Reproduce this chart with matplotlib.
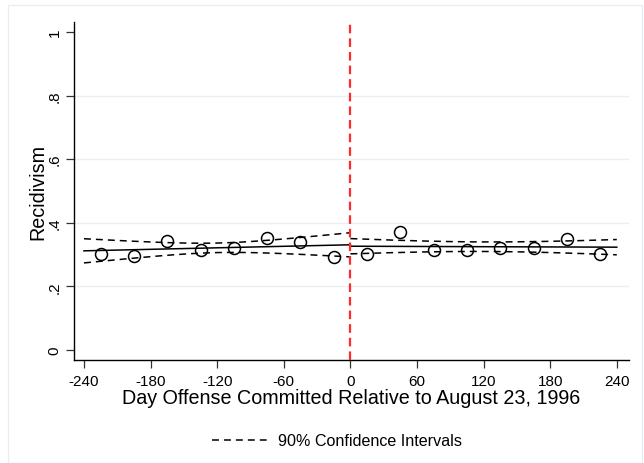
import numpy as np
import matplotlib
matplotlib.use("Agg")
import matplotlib.pyplot as plt
from matplotlib.lines import Line2D
from matplotlib.patches import Rectangle

plt.rcParams["font.family"] = ["Liberation Sans", "DejaVu Sans"]
plt.rcParams["lines.scale_dashes"] = False

# Binned recidivism rates (30-day bins) around the cutoff date
bin_days = [-225, -195, -165, -135, -105, -75, -45, -15,
            15, 45, 75, 105, 135, 165, 195, 225]
recid_rate = [0.302, 0.295, 0.344, 0.314, 0.321, 0.352, 0.340, 0.293,
              0.303, 0.370, 0.315, 0.314, 0.321, 0.320, 0.349, 0.303]

# Linear fits on each side of the cutoff: [x_low, x_high, centre, fit at centre,
# slope per day, s.e. of fit at centre, s.e. of slope]
fit_left = [-240, 0, -120, 0.3215, 0.0000790, 0.0091, 0.000177]
fit_right = [0, 240, 120, 0.3250, -0.0000125, 0.0091, 0.0000950]
z90 = 1.645

x_ticks = [-240, -180, -120, -60, 0, 60, 120, 180, 240]
y_ticks = [0, 0.2, 0.4, 0.6, 0.8, 1.0]
y_tick_labels = ["0", ".2", ".4", ".6", ".8", "1"]

fig = plt.figure(figsize=(6.44, 4.64), dpi=100)
fig.patch.set_facecolor("white")
fig.patches.append(Rectangle((8 / 644, 0.0), 634 / 644, 1 - 6 / 464,
                             transform=fig.transFigure, fill=False,
                             edgecolor="#e6eef0", linewidth=0.9))

ax = fig.add_axes([74 / 644, 1 - 361 / 464, 555 / 644, 338 / 464])
ax.set_xlim(-249, 251)
ax.set_ylim(-0.031, 1.031)

for gy in [0.2, 0.4, 0.6, 0.8]:
    ax.axhline(gy, color="#e8f0f1", linewidth=1.0, zorder=0)

dash = (0, (5.0, 3.6))
for lo, hi, xc, yc, b, se0, seb in (fit_left, fit_right):
    xs = np.linspace(lo, hi, 200)
    fit = yc + b * (xs - xc)
    hw = z90 * np.sqrt(se0 ** 2 + (seb * (xs - xc)) ** 2)
    ax.plot(xs, fit, color="black", linewidth=1.1, zorder=3)
    ax.plot(xs, fit + hw, color="black", linewidth=1.1, linestyle=dash, zorder=3)
    ax.plot(xs, fit - hw, color="black", linewidth=1.1, linestyle=dash, zorder=3)

ax.plot(bin_days, recid_rate, linestyle="none", marker="o", markersize=8.6,
        markerfacecolor="none", markeredgecolor="black", markeredgewidth=1.1,
        zorder=4)

ax.axvline(0, color="#ff2b2b", linewidth=1.6, linestyle=(0, (6.2, 3.6)), zorder=5)

for s in ["top", "right"]:
    ax.spines[s].set_visible(False)
for s in ["left", "bottom"]:
    ax.spines[s].set_linewidth(1.0)
    ax.spines[s].set_color("black")

ax.set_xticks(x_ticks)
ax.set_xticklabels([str(t) for t in x_ticks], fontsize=11)
ax.set_yticks(y_ticks)
ax.set_yticklabels(y_tick_labels, fontsize=11, rotation=90, va="center")
ax.tick_params(axis="both", length=6, width=0.9, color="#333333", pad=3)
ax.tick_params(axis="x", pad=4)

ax.set_xlabel("Day Offense Committed Relative to August 23, 1996",
              fontsize=14.2, labelpad=0)
ax.set_ylabel("Recidivism", fontsize=14.2, labelpad=0)

handle = Line2D([], [], color="black", linewidth=1.1, linestyle=(0, (5.0, 3.6)))
fig.legend([handle], ["90% Confidence Intervals"], loc="center",
           bbox_to_anchor=(337 / 644, 1 - 442 / 464), frameon=False,
           fontsize=11.6, handlelength=3.6, handletextpad=0.55)

fig.savefig("out.png", dpi=100, facecolor="white")
